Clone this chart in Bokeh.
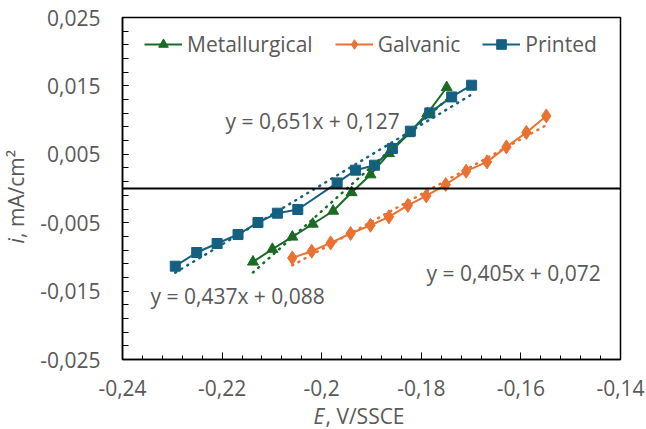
import numpy as np
from math import pi
from bokeh.plotting import figure
from bokeh.models import FixedTicker, Span, Label, Legend, LegendItem, Range1d
from bokeh.core.properties import value
from bokeh.embed import file_html
from bokeh.resources import INLINE

# ---- data ----
met_E = [-0.2138, -0.2099, -0.2059, -0.2018, -0.1977, -0.1940, -0.1902, -0.1865, -0.1825, -0.1788, -0.1749]
met_i = [-0.01073, -0.00887, -0.00708, -0.00519, -0.00329, -0.00058, 0.00202, 0.00512, 0.00804, 0.01096, 0.01477]

gal_E = [-0.2059, -0.2020, -0.1982, -0.1942, -0.1902, -0.1865, -0.1827, -0.1790, -0.1751, -0.1710, -0.1668, -0.1629, -0.1589, -0.1549]
gal_i = [-0.01015, -0.00917, -0.00795, -0.00658, -0.00537, -0.00415, -0.00247, -0.00108, 0.00058, 0.00253, 0.00389, 0.00608, 0.00819, 0.01061]

prt_E = [-0.2294, -0.2251, -0.2210, -0.2168, -0.2128, -0.2089, -0.2048, -0.1969, -0.1932, -0.1894, -0.1858, -0.1822, -0.1783, -0.1739, -0.1699]
prt_i = [-0.01136, -0.00936, -0.00804, -0.00673, -0.00497, -0.00361, -0.00307, 0.00082, 0.00268, 0.00341, 0.00585, 0.00838, 0.01105, 0.01339, 0.0151]

series_names = ["Metallurgical", "Galvanic", "Printed"]
equations = ["y = 0,651x + 0,127", "y = 0,405x + 0,072", "y = 0,437x + 0,088"]

x_ticks = [-0.24, -0.22, -0.2, -0.18, -0.16, -0.14]
x_tick_labels = ["-0,24", "-0,22", "-0,2", "-0,18", "-0,16", "-0,14"]
y_ticks = [-0.025, -0.015, -0.005, 0.005, 0.015, 0.025]
y_tick_labels = ["-0,025", "-0,015", "-0,005", "0,005", "0,015", "0,025"]

# ---- style ----
FONT = "Open Sans"
TXT = "#595959"
GREEN, ORANGE, BLUE = "#196B24", "#E97132", "#156082"
FS = "21px"

W, H = 646, 429
L, R, T, B = 122, 26, 17, 70
X0, X1, Y0, Y1 = -0.24, -0.14, -0.025, 0.025
fw, fh = W - L - R, H - T - B


def px2x(px):
    return X0 + (px - L) / fw * (X1 - X0)


def py2y(py):
    return Y1 - (py - T) / fh * (Y1 - Y0)


p = figure(width=W, height=H, x_range=Range1d(X0, X1), y_range=Range1d(Y0, Y1),
           output_backend="svg", toolbar_location=None,
           min_border_left=L, min_border_right=R, min_border_top=T, min_border_bottom=B)
p.xgrid.visible = False
p.ygrid.visible = False
p.outline_line_color = "black"
p.outline_line_width = 1.5
p.outline_line_alpha = 1.0
p.background_fill_color = "white"
p.border_fill_color = "white"

x_minor = [round(X0 + k * 0.004, 4) for k in range(26)]
y_minor = [round(Y0 + k * 0.002, 4) for k in range(26)]
p.xaxis.ticker = FixedTicker(ticks=x_ticks, minor_ticks=x_minor)
p.yaxis.ticker = FixedTicker(ticks=y_ticks, minor_ticks=y_minor)
p.xaxis.major_label_overrides = {t: s for t, s in zip(x_ticks, x_tick_labels)}
p.yaxis.major_label_overrides = {t: s for t, s in zip(y_ticks, y_tick_labels)}

for ax in (p.xaxis, p.yaxis):
    ax.axis_line_color = "black"
    ax.axis_line_width = 1.5
    ax.major_tick_line_color = "black"
    ax.minor_tick_line_color = "black"
    ax.major_tick_line_width = 1
    ax.minor_tick_line_width = 1
    ax.major_tick_out = 0
    ax.minor_tick_out = 0
    ax.major_label_text_font = FONT
    ax.major_label_text_font_size = FS
    ax.major_label_text_color = TXT
p.xaxis.major_tick_in = 7
p.xaxis.minor_tick_in = 4
p.yaxis.major_tick_in = 6
p.yaxis.minor_tick_in = 6
p.xaxis.major_label_standoff = 20
p.yaxis.major_label_standoff = 22

p.add_layout(Span(location=0, dimension="width", line_color="black", line_width=2))

items = []
specs = [
    (met_E, met_i, GREEN, "triangle", 11),
    (gal_E, gal_i, ORANGE, "diamond", 14),
    (prt_E, prt_i, BLUE, "square", 10),
]
fits = []
for (xs, ys, col, mk, sz), name in zip(specs, series_names):
    ln = p.line(xs, ys, line_color=col, line_width=2)
    sc = p.scatter(xs, ys, marker=mk, size=sz, fill_color=col, line_color=col)
    items.append(LegendItem(label=name, renderers=[ln, sc]))
    fits.append((xs, ys, col))

for xs, ys, col in fits:
    k, b = np.polyfit(xs, ys, 1)
    xa = np.array([min(xs), max(xs)])
    p.line(xa, k * xa + b, line_color=col, line_width=2.5, line_dash="1 6", line_cap="round")

legend = Legend(items=items, orientation="horizontal", location=(22, 301),
                padding=0, margin=0, spacing=22, glyph_width=38, glyph_height=24,
                label_standoff=5, border_line_color=None, background_fill_alpha=0,
                label_text_font=FONT, label_text_font_size=FS, label_text_color=TXT)
p.add_layout(legend, "center")

eq_pos = [(225, 120), (426, 272), (150, 295)]
for eq, (ex, ey) in zip(equations, eq_pos):
    p.add_layout(Label(x=px2x(ex), y=py2y(ey), text=eq, text_font=FONT, text_font_size=FS,
                       text_color=TXT, text_align="left", text_baseline="middle"))

# axis titles: text glyphs anchored just inside the frame and shifted out by a pixel offset,
# drawn at overlay level so that they are not clipped to the frame
title_kw = dict(text_font=value(FONT), text_font_size=value(FS), text_color=TXT,
                text_align="left", text_baseline="middle", level="overlay")
p.text(x=[px2x(313)], y=[py2y(354)], text=["E"], y_offset=61,
       text_font_style="italic", **title_kw)
p.text(x=[px2x(325)], y=[py2y(354)], text=[", V/SSCE"], y_offset=61, **title_kw)
p.text(x=[px2x(127)], y=[py2y(243)], text=["i"], x_offset=-112, angle=pi / 2,
       text_font_style="italic", **title_kw)
p.text(x=[px2x(127)], y=[py2y(237.5)], text=[", mA/cm²"], x_offset=-112, angle=pi / 2, **title_kw)

open("out.html", "w").write(file_html(p, INLINE))
